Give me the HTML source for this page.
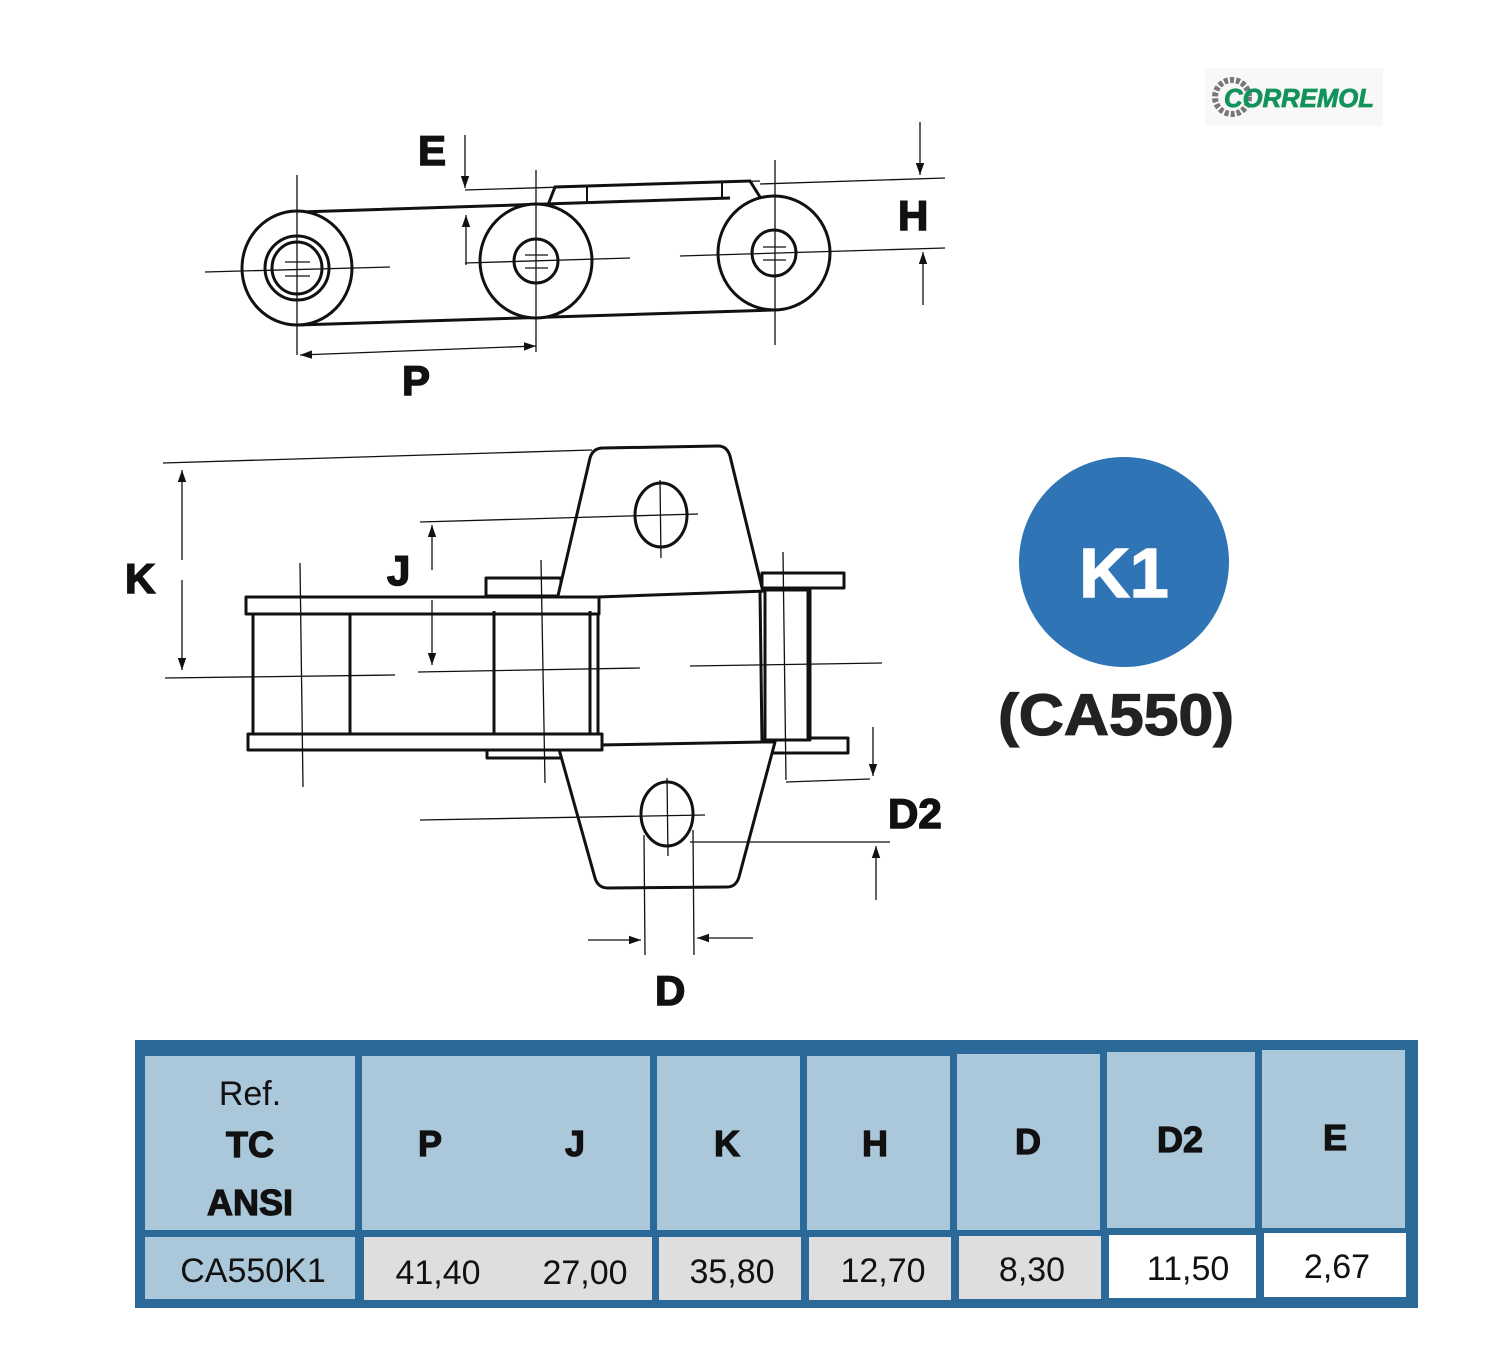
<!DOCTYPE html>
<html><head><meta charset="utf-8"><style>
body{margin:0;background:#fff;width:1500px;height:1349px;overflow:hidden;position:relative;font-family:"Liberation Sans",Arial,sans-serif}
svg{position:absolute;left:0;top:0}
</style></head><body>
<svg width="1500" height="1349" viewBox="0 0 1500 1349" xmlns="http://www.w3.org/2000/svg">
<defs>
<marker id="a" viewBox="0 0 10 10" refX="10" refY="5" markerWidth="12" markerHeight="12" orient="auto-start-reverse" markerUnits="userSpaceOnUse"><path d="M0,1.5 L10,5 L0,8.5 z" fill="#111"/></marker>
</defs>
<!-- Logo -->
<rect x="1205" y="68" width="178" height="58" fill="#f8f8f8"/>
<circle cx="1232" cy="97" r="17" fill="none" stroke="#777" stroke-width="6" stroke-dasharray="4 2"/>
<text x="1224" y="107" font-family="Liberation Sans" font-weight="bold" font-style="italic" font-size="26" fill="#13935c" stroke="#13935c" stroke-width="0.8" textLength="150" lengthAdjust="spacingAndGlyphs">CORREMOL</text>

<g stroke="#111" fill="none" stroke-width="3">
<path d="M300,212 L730,198 M548,205 L555,187 L750,181 L760,197 M298,325 L773,310"/>
<line x1="587" y1="186" x2="587" y2="203" stroke-width="2"/>
<line x1="722" y1="181" x2="722" y2="198" stroke-width="2"/>
<ellipse cx="297" cy="268" rx="55" ry="57" fill="#fff"/>
<ellipse cx="297" cy="268" rx="32" ry="32"/>
<ellipse cx="297" cy="268" rx="25" ry="26"/>
<ellipse cx="536" cy="261" rx="56" ry="57" fill="#fff"/>
<ellipse cx="536" cy="261" rx="22" ry="22"/>
<ellipse cx="774" cy="253" rx="56" ry="57" fill="#fff"/>
<ellipse cx="774" cy="253" rx="22" ry="23"/>
</g>
<g stroke="#111" stroke-width="1.3" fill="none">
<line x1="297" y1="175" x2="297" y2="355"/><line x1="536" y1="170" x2="536" y2="352"/><line x1="775" y1="160" x2="775" y2="345"/>
<line x1="205" y1="272" x2="390" y2="267"/><line x1="465" y1="263" x2="630" y2="258"/><line x1="680" y1="256" x2="945" y2="248"/>
<line x1="285" y1="262" x2="310" y2="262"/><line x1="285" y1="276" x2="310" y2="276"/><line x1="525" y1="255" x2="548" y2="255"/><line x1="525" y1="268" x2="548" y2="268"/><line x1="763" y1="247" x2="786" y2="247"/><line x1="763" y1="260" x2="786" y2="260"/>
<line x1="465" y1="190" x2="760" y2="181"/><line x1="760" y1="184" x2="945" y2="178"/>
<line x1="465" y1="135" x2="465" y2="188" marker-end="url(#a)"/>
<line x1="466" y1="265" x2="466" y2="215" marker-end="url(#a)"/>
<line x1="920" y1="122" x2="920" y2="175" marker-end="url(#a)"/>
<line x1="923" y1="305" x2="923" y2="252" marker-end="url(#a)"/>
<line x1="300" y1="355" x2="536" y2="346" marker-start="url(#a)" marker-end="url(#a)"/>
</g>
<g font-family="Liberation Sans" font-weight="bold" fill="#111" stroke="#111" stroke-width="1.5">
<text x="418" y="165" font-size="42">E</text>
<text x="898" y="230" font-size="42">H</text>
<text x="402" y="395" font-size="42">P</text>
<text x="125" y="593" font-size="42">K</text>
<text x="387" y="585" font-size="42">J</text>
<text x="888" y="828" font-size="42">D2</text>
<text x="655" y="1005" font-size="42">D</text>
</g>

<!-- BOTTOM VIEW -->
<g stroke="#111" stroke-width="3" fill="#fff" stroke-linejoin="round">
<rect x="486" y="578" width="75" height="18"/>
<rect x="487" y="742" width="75" height="16"/>
<rect x="762" y="573" width="82" height="15"/>
<rect x="764" y="738" width="84" height="15"/>
<path d="M557,600 L590,458 Q593,448 603,448 L718,446 Q727,446 730,456 L765,600 z"/>
<path d="M557,742 L595,878 Q598,888 608,888 L727,887 Q736,887 739,877 L775,742 z"/>
<path d="M598,597 L765,591 L765,742 L598,745 z"/>
<rect x="765" y="590" width="45" height="150"/>
<rect x="253" y="610" width="345" height="127"/>
<rect x="246" y="597" width="353" height="17"/>
<rect x="248" y="734" width="354" height="16"/>
<line x1="350" y1="613" x2="350" y2="733"/>
<line x1="494" y1="611" x2="494" y2="733"/>
<line x1="590" y1="611" x2="590" y2="733"/>
<line x1="760" y1="591" x2="762" y2="742"/>
<line x1="808" y1="590" x2="808" y2="740"/>
<ellipse cx="661" cy="515" rx="26" ry="32"/>
<ellipse cx="667" cy="814" rx="26" ry="32"/>
</g>
<g stroke="#111" stroke-width="1.3" fill="none">
<line x1="163" y1="463" x2="592" y2="450"/>
<line x1="165" y1="678" x2="395" y2="675"/><line x1="418" y1="672" x2="640" y2="668"/><line x1="690" y1="666" x2="882" y2="663"/>
<line x1="420" y1="522" x2="698" y2="514"/>
<line x1="660" y1="480" x2="661" y2="558"/>
<line x1="420" y1="820" x2="705" y2="815"/>
<line x1="667" y1="778" x2="668" y2="856"/>
<line x1="300" y1="563" x2="303" y2="787"/>
<line x1="541" y1="560" x2="545" y2="783"/>
<line x1="783" y1="552" x2="786" y2="780"/>
<line x1="786" y1="782" x2="870" y2="779"/>
<line x1="690" y1="842" x2="890" y2="842"/>
<line x1="644" y1="835" x2="645" y2="955"/><line x1="693" y1="830" x2="694" y2="955"/>
<line x1="182" y1="560" x2="182" y2="470" marker-end="url(#a)"/><line x1="182" y1="580" x2="182" y2="670" marker-end="url(#a)"/>
<line x1="432" y1="570" x2="432" y2="525" marker-end="url(#a)"/><line x1="432" y1="600" x2="432" y2="665" marker-end="url(#a)"/>
<line x1="873" y1="727" x2="873" y2="776" marker-end="url(#a)"/>
<line x1="876" y1="900" x2="876" y2="846" marker-end="url(#a)"/>
<line x1="588" y1="940" x2="641" y2="940" marker-end="url(#a)"/>
<line x1="753" y1="938" x2="697" y2="938" marker-end="url(#a)"/>
</g>

<!-- K1 circle -->
<circle cx="1124" cy="562" r="105" fill="#2f74b5"/>
<text x="1124" y="597" text-anchor="middle" font-family="Liberation Sans" font-weight="bold" font-size="70" fill="#fff" stroke="#fff" stroke-width="1.5">K1</text>
<text x="1116" y="735" text-anchor="middle" font-family="Liberation Sans" font-weight="bold" font-size="58" fill="#222" stroke="#222" stroke-width="1.2" textLength="236" lengthAdjust="spacingAndGlyphs">(CA550)</text>

<!-- TABLE -->
<rect x="135" y="1040" width="1283" height="268" fill="#2b6a98"/>
<g fill="#abc8da">
<rect x="145" y="1056" width="210" height="174"/>
<rect x="362" y="1056" width="288" height="174"/>
<rect x="657" y="1056" width="143" height="174"/>
<rect x="807" y="1056" width="143" height="174"/>
<rect x="957" y="1054" width="143" height="176"/>
<rect x="1107" y="1052" width="148" height="176"/>
<rect x="1262" y="1050" width="143" height="178"/>
<rect x="145" y="1237" width="210" height="62"/>
</g>
<g fill="#dedede">
<rect x="364" y="1237" width="288" height="63"/>
<rect x="659" y="1237" width="142" height="63"/>
<rect x="809" y="1237" width="142" height="63"/>
<rect x="959" y="1236" width="142" height="63"/>
</g>
<g fill="#fff">
<rect x="1109" y="1235" width="147" height="63"/>
<rect x="1264" y="1233" width="142" height="64"/>
</g>
<g font-family="Liberation Sans" fill="#111" text-anchor="middle">
<text x="250" y="1105" font-size="34">Ref.</text>
<g font-weight="bold" stroke="#111" stroke-width="1.2" font-size="36">
<text x="250" y="1157">TC</text>
<text x="250" y="1215">ANSI</text>
<text x="430" y="1156">P</text>
<text x="575" y="1156">J</text>
<text x="727" y="1156">K</text>
<text x="875" y="1156">H</text>
<text x="1028" y="1154">D</text>
<text x="1180" y="1152">D2</text>
<text x="1335" y="1150">E</text>
</g>
<text x="253" y="1282" font-size="34">CA550K1</text>
<text x="438" y="1284" font-size="34">41,40</text>
<text x="585" y="1284" font-size="34">27,00</text>
<text x="732" y="1283" font-size="34">35,80</text>
<text x="883" y="1282" font-size="34">12,70</text>
<text x="1032" y="1281" font-size="34">8,30</text>
<text x="1188" y="1280" font-size="34">11,50</text>
<text x="1337" y="1278" font-size="34">2,67</text>
</g>
</svg>
</body></html>
